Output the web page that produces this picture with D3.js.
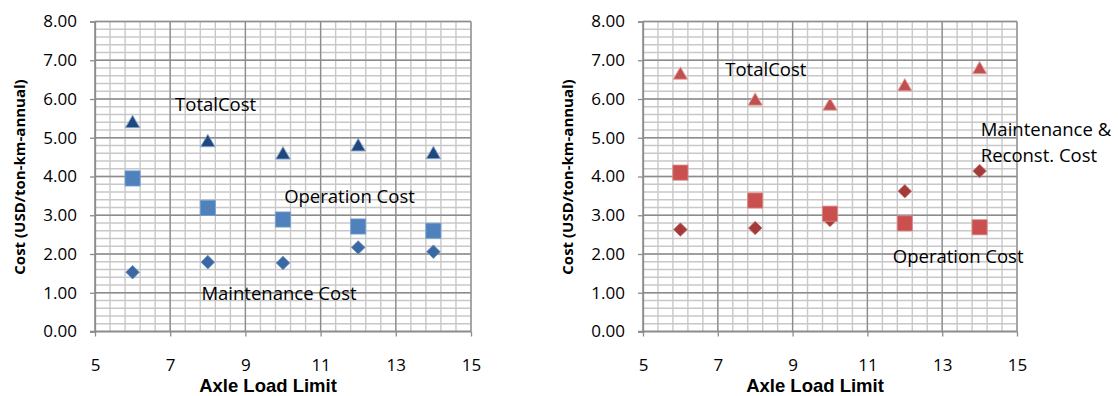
<!DOCTYPE html>
<html>
<head>
<meta charset="utf-8">
<script src="https://cdn.jsdelivr.net/npm/d3@7"></script>
<style>
  html, body { margin: 0; padding: 0; background: #fff; }
  svg { display: block; }
</style>
</head>
<body>
<svg id="chart" width="1118" height="396"></svg>
<script>
// ---------- data ----------
const axleLoad = [6, 8, 10, 12, 14];
const xTickValues = [5, 7, 9, 11, 13, 15];
const yTickValues = [0, 1, 2, 3, 4, 5, 6, 7, 8];

const leftTotal = [5.42, 4.93, 4.61, 4.82, 4.62];
const leftOperation = [3.95, 3.19, 2.89, 2.71, 2.60];
const leftMaintenance = [1.53, 1.79, 1.77, 2.17, 2.06];

const rightTotal = [6.67, 6.00, 5.87, 6.37, 6.81];
const rightOperation = [4.10, 3.38, 3.04, 2.79, 2.69];
const rightMaintReconst = [2.63, 2.67, 2.88, 3.62, 4.14];

const xTitle = "Axle Load Limit";
const yTitle = "Cost (USD/ton-km-annual)";
const leftLabels = ["TotalCost", "Operation Cost", "Maintenance Cost"];
const rightLabels = ["TotalCost", "Maintenance &", "Reconst. Cost", "Operation Cost"];

// ---------- drawing ----------
const svg = d3.select("#chart");
svg.append("rect").attr("width", 1118).attr("height", 396).attr("fill", "#fff");

const tickFont = "'Open Sans', sans-serif";

function panel(opts) {
  const g = svg.append("g");
  const x = d3.scaleLinear().domain([5, 15]).range([opts.x0, opts.x1]);
  const y = d3.scaleLinear().domain([0, 8]).range([331.5, 21.5]);

  // minor grid
  d3.range(0, 26).map(i => 5 + i * 0.4).forEach(v => {
    g.append("line").attr("x1", x(v)).attr("x2", x(v)).attr("y1", y(0)).attr("y2", y(8))
      .attr("stroke", "#c8c8c8").attr("stroke-width", 1.4);
  });
  d3.range(0, 41).map(i => i * 0.2).forEach(v => {
    g.append("line").attr("x1", x(5)).attr("x2", x(15)).attr("y1", y(v)).attr("y2", y(v))
      .attr("stroke", "#c8c8c8").attr("stroke-width", 1.4);
  });
  // major grid
  xTickValues.forEach(v => {
    g.append("line").attr("x1", x(v)).attr("x2", x(v)).attr("y1", y(0)).attr("y2", y(8))
      .attr("stroke", "#8c8c8c").attr("stroke-width", 1.3);
  });
  yTickValues.forEach(v => {
    g.append("line").attr("x1", x(5)).attr("x2", x(15)).attr("y1", y(v)).attr("y2", y(v))
      .attr("stroke", "#8c8c8c").attr("stroke-width", 1.3);
  });

  // axes
  const yAxis = d3.axisLeft(y).tickValues(yTickValues).tickFormat(d3.format(".2f"))
    .tickSize(5).tickPadding(13);
  const ga = g.append("g").attr("transform", `translate(${x(5)},0)`).call(yAxis);
  ga.select(".domain").attr("stroke", "#8c8c8c").attr("stroke-width", 1.3);
  ga.selectAll(".tick line").attr("stroke", "#8c8c8c").attr("stroke-width", 1.3);
  ga.selectAll(".tick text").attr("font-family", tickFont).attr("font-size", 17).attr("fill", "#000");

  const xAxis = d3.axisBottom(x).tickValues(xTickValues).tickFormat(d3.format("d"))
    .tickSize(5).tickPadding(22);
  const gx = g.append("g").attr("transform", `translate(0,${y(0)})`).call(xAxis);
  gx.select(".domain").attr("stroke", "#8c8c8c").attr("stroke-width", 1.3)
    .attr("d", `M${x(5) - 5},0H${x(15)}`);
  gx.selectAll(".tick line").attr("stroke", "#8c8c8c").attr("stroke-width", 1.3);
  gx.selectAll(".tick text").attr("font-family", tickFont).attr("font-size", 17).attr("fill", "#000");

  // titles
  g.append("text").attr("x", (x(5) + x(15)) / 2 - 15).attr("y", 392)
    .attr("text-anchor", "middle").attr("font-family", "'Liberation Sans', Arial, sans-serif")
    .attr("font-weight", "bold").attr("font-size", 18.5).text(xTitle);
  g.append("text").attr("transform", `translate(${opts.yTitleX},177) rotate(-90)`)
    .attr("text-anchor", "middle").attr("dominant-baseline", "central")
    .attr("font-family", "'Open Sans', sans-serif")
    .attr("font-weight", "bold").attr("font-size", 15).text(yTitle);

  // markers
  const triSize = 90;
  const triY = Math.sqrt(triSize / (Math.sqrt(3) * 3));
  const tri = d3.symbol().type(d3.symbolTriangle).size(triSize);
  const sq = d3.symbol().type(d3.symbolSquare).size(230);
  const dia = d3.symbol().type(d3.symbolSquare).size(92);

  // diamonds (maintenance)
  g.selectAll(null).data(opts.diamond).join("path")
    .attr("d", dia)
    .attr("transform", (d, i) => `translate(${x(axleLoad[i])},${y(d)}) rotate(45)`)
    .attr("fill", opts.colors.diamond).attr("stroke", opts.colors.diamondEdge).attr("stroke-width", 0.8);
  // squares (operation)
  g.selectAll(null).data(opts.square).join("path")
    .attr("d", sq)
    .attr("transform", (d, i) => `translate(${x(axleLoad[i])},${y(d)})`)
    .attr("fill", opts.colors.square).attr("stroke", opts.colors.squareEdge).attr("stroke-width", 0.8);
  // triangles (total)
  g.selectAll(null).data(opts.triangle).join("path")
    .attr("d", tri)
    .attr("transform", (d, i) => `translate(${x(axleLoad[i])},${y(d) + triY / 2})`)
    .attr("fill", opts.colors.triangle).attr("stroke", opts.colors.triangleEdge).attr("stroke-width", 1);

  // annotations
  opts.labels.forEach(l => {
    g.append("text").attr("x", x(l.x)).attr("y", y(l.y))
      .attr("font-family", "'Open Sans', sans-serif").attr("font-size", 18.5)
      .attr("fill", "#000").text(l.text);
  });
}

panel({
  x0: 95, x1: 471, yTitleX: 19,
  triangle: leftTotal, square: leftOperation, diamond: leftMaintenance,
  colors: {
    triangle: "#1f497d", triangleEdge: "#8aa6cf",
    square: "#4f81bd", squareEdge: "#7a9fd0",
    diamond: "#3a68a2", diamondEdge: "#6c8fc2"
  },
  labels: [
    { text: leftLabels[0], x: 7.13, y: 5.70 },
    { text: leftLabels[1], x: 10.03, y: 3.32 },
    { text: leftLabels[2], x: 7.83, y: 0.81 }
  ]
});

panel({
  x0: 643, x1: 1017, yTitleX: 567,
  triangle: rightTotal, square: rightOperation, diamond: rightMaintReconst,
  colors: {
    triangle: "#c0504d", triangleEdge: "#e8a9a7",
    square: "#c9504f", squareEdge: "#dc8a88",
    diamond: "#a23b3a", diamondEdge: "#c77573"
  },
  labels: [
    { text: rightLabels[0], x: 7.2, y: 6.60 },
    { text: rightLabels[1], x: 14.03, y: 5.05 },
    { text: rightLabels[2], x: 14.03, y: 4.38 },
    { text: rightLabels[3], x: 11.68, y: 1.77 }
  ]
});
</script>
</body>
</html>
